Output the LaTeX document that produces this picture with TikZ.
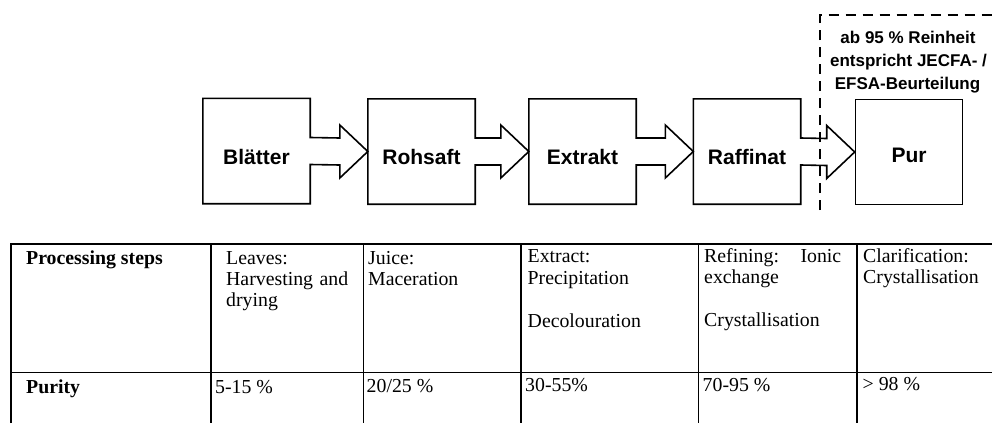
\documentclass[tikz,border=0pt]{standalone}
\usepackage{fontspec}
\setmainfont{Liberation Serif}
\newfontfamily\arialf{Liberation Sans}
\usetikzlibrary{calc}
\begin{document}
\begin{tikzpicture}[x=1pt,y=-1pt,
  stage/.style={minimum width=107pt,minimum height=105pt,inner sep=0pt},
  stagelbl/.style={font=\arialf\bfseries\fontsize{21}{24}\selectfont,inner sep=0pt,anchor=base},
  outline/.style={line width=1.6pt,line join=miter},
  note/.style={font=\arialf\bfseries\fontsize{17}{23}\selectfont,inner sep=0pt,anchor=base},
  grid/.style={line width=1.4pt},
  cell/.style={font=\fontsize{19.8}{21}\selectfont,inner sep=0pt,anchor=base west},
  cellb/.style={cell,font=\bfseries\fontsize{19.8}{21}\selectfont},
  sep/.style={line width=2pt,dash pattern=on 10pt off 7pt}]
\useasboundingbox (0,0) rectangle (992,423);
% stage boxes
\node[stage] (b1) at (256.5,151) {};
\node[stage] (b2) at (421.5,151.5) {};
\node[stage] (b3) at (582.5,151.5) {};
\node[stage] (b4) at (747,151.5) {};
\node[stage,draw,line width=1.6pt] (b5) at (909,152) {};
% labels
\node[stagelbl] (l1) at (256.5,164) {Blätter};
\node[stagelbl] (l2) at (421.5,164) {Rohsaft};
\node[stagelbl] (l3) at (582.5,164) {Extrakt};
\node[stagelbl] (l4) at (747,164) {Raffinat};
\node[stagelbl] (l5) at (909,162) {Pur};
% box outlines with arrow connectors
\foreach \i/\j in {b1/b2,b2/b3,b3/b4,b4/b5}{
  \draw[outline] (\i.south west) -- (\i.north west) -- (\i.north east)
    -- ($(\i.east)+(0,-13.5)$) -- ($(\j.west)+(-28,-13.5)$)
    -- ($(\j.west)+(-28,-26.5)$) -- (\j.west)
    -- ($(\j.west)+(-28,26.5)$) -- ($(\j.west)+(-28,13.5)$)
    -- ($(\i.east)+(0,13.5)$) -- (\i.south east) -- cycle;
}
% dashed separator
\coordinate (s1) at (819.5,210);
\coordinate (s2) at (819.5,15);
\coordinate (s3) at (992,15);
\draw[sep] (s1) -- (s2) -- (s3);
\node[note] (n1) at (908,43) {ab 95 \% Reinheit};
\node[note] (n2) at (908.5,66) {entspricht JECFA- /};
\node[note] (n3) at (907.5,89) {EFSA-Beurteilung};
% table
\draw[grid] (11,423) -- (11,244) -- (992,244);
\draw[grid] (11,372.5) -- (992,372.5);
\foreach \x in {211,363.5,521,698.5,857}{
  \draw[grid] (\x,244) -- (\x,423);
}
\node[cellb] (c00) at (26,264) {Processing steps};
\node[cell] (c01a) at (226,264) {Leaves:};
\node[cell] (c01b) at (226,285) {\makebox[122pt][s]{Harvesting and}};
\node[cell] (c01c) at (226,306) {drying};
\node[cell] (c02a) at (368,264) {Juice:};
\node[cell] (c02b) at (368,285) {Maceration};
\node[cell] (c03a) at (527.5,262.5) {Extract:};
\node[cell] (c03b) at (527.5,284) {Precipitation};
\node[cell] (c03c) at (527.5,327) {Decolouration};
\node[cell] (c04a) at (704,262) {\makebox[137pt][s]{Refining: Ionic}};
\node[cell] (c04b) at (704,283.5) {exchange};
\node[cell] (c04c) at (704,326.5) {Crystallisation};
\node[cell] (c05a) at (863,262) {Clarification:};
\node[cell] (c05b) at (863,283) {Crystallisation};
\node[cellb] (c10) at (26,393) {Purity};
\node[cell] (c11) at (215,393) {5-15 \%};
\node[cell] (c12) at (366.5,392.5) {20/25 \%};
\node[cell] (c13) at (525,391.5) {30-55\%};
\node[cell] (c14) at (702.5,391) {70-95 \%};
\node[cell] (c15) at (862.5,390) {> 98 \%};
\end{tikzpicture}
\end{document}
